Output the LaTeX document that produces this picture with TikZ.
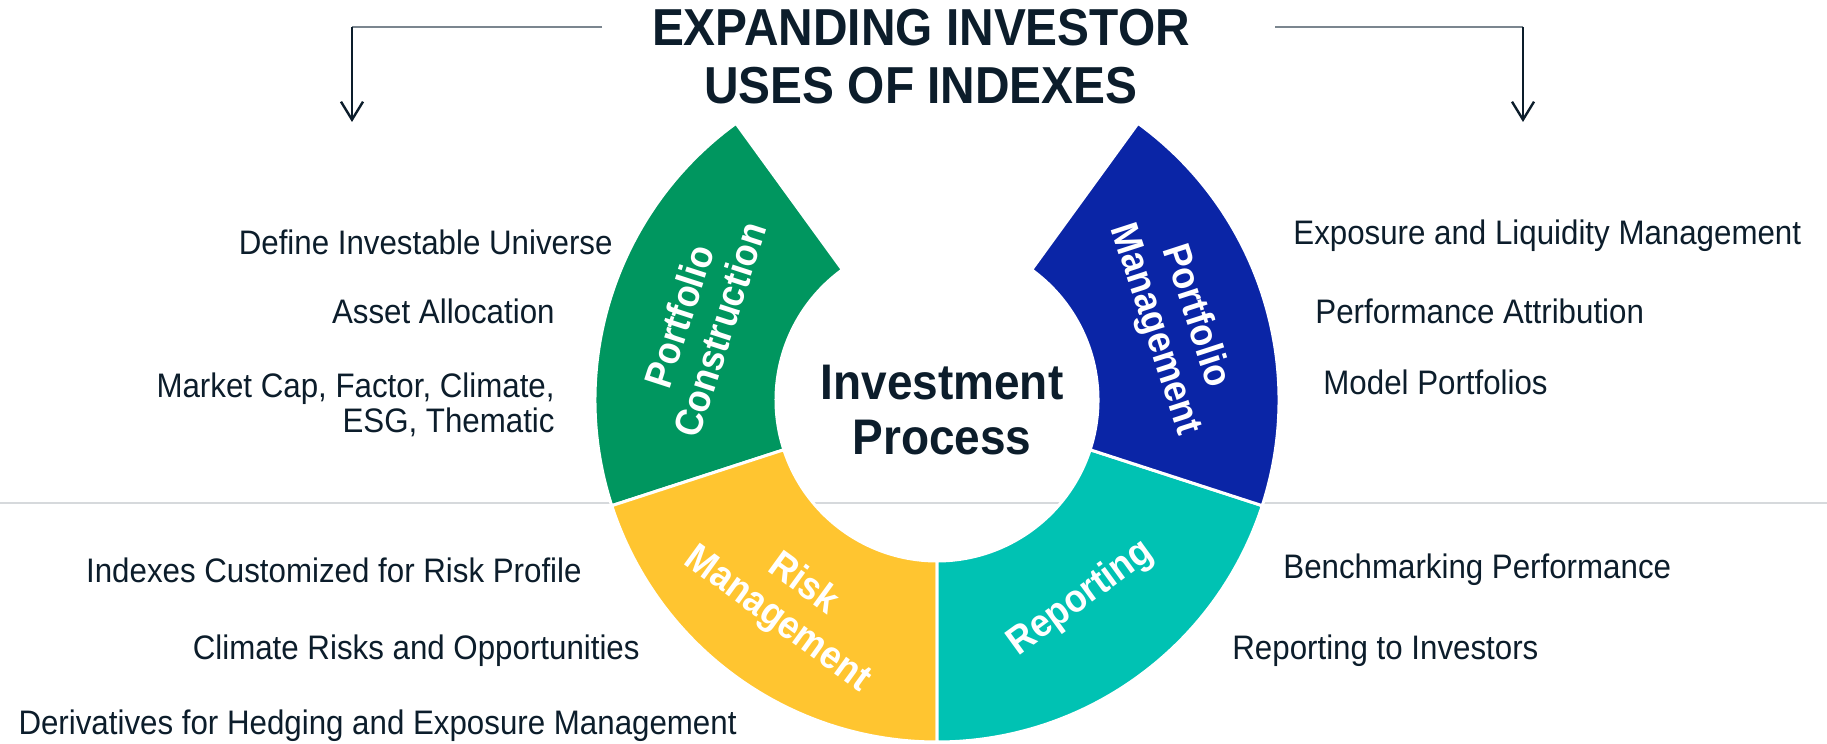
\documentclass[tikz,border=0pt]{standalone}
\usepackage{fontspec}
\setmainfont{Liberation Sans}[FakeStretch=0.92]
\usepackage{xcolor}
\definecolor{uses-navy}{HTML}{0C1D2B}
\definecolor{uses-gray}{HTML}{7B868F}
\definecolor{uses-rule}{HTML}{D6D9DC}
\definecolor{uses-green}{HTML}{00965F}
\definecolor{uses-blue}{HTML}{0A25A6}
\definecolor{uses-yellow}{HTML}{FFC530}
\definecolor{uses-teal}{HTML}{00C2B3}
\usetikzlibrary{arrows.meta}

\tikzset{
    usetext/.style={text=uses-navy, font=\fontsize{17}{17.5}\selectfont, inner sep=0pt},
    ringlabel/.style={text=white, font=\fontsize{19.5}{21.5}\selectfont\bfseries, align=center, inner sep=0pt},
    leadline/.style={uses-gray, line width=1pt},
    leadarrow/.style={uses-navy, line width=1.2pt, -{Straight Barb[length=9pt, width=11pt, line width=1.2pt]}},
}

\begin{document}
\begin{tikzpicture}[x=0.5pt, y=0.5pt]
    \useasboundingbox (0,0) rectangle (1827,744);

    % Divider
    \draw[uses-rule, line width=1pt] (0,241) -- (1827,241);

    % Title
    \node[text=uses-navy, font=\fontsize{26}{29}\selectfont\bfseries, align=center, inner sep=0pt] (title) at (921,687) {EXPANDING INVESTOR\\USES OF INDEXES};

    % Leads
    \coordinate (left-start) at (602,717);
    \coordinate (left-turn) at (352,717);
    \coordinate (left-end) at (352,622);
    \coordinate (right-start) at (1275,717);
    \coordinate (right-turn) at (1523,717);
    \coordinate (right-end) at (1523,622);
    \draw[leadline] (left-start) -- (left-turn);
    \draw[leadarrow] (left-turn) -- (left-end);
    \draw[leadline] (right-start) -- (right-turn);
    \draw[leadarrow] (right-turn) -- (right-end);

    % Ring
    \begin{scope}[shift={(937,344)}]
        \foreach \from/\to/\col in {126/198/uses-green, 198/270/uses-yellow, 270/342/uses-teal, 342/414/uses-blue}
            \filldraw[fill=\col, draw=white, line width=1.5pt] (\from:342) arc[start angle=\from, end angle=\to, radius=342]
                -- (\to:161) arc[start angle=\to, end angle=\from, radius=161] -- cycle;

        \node[ringlabel, rotate=72] (construction) at (162:250) {Portfolio\\Construction};
        \node[ringlabel, rotate=-72] (management) at (18:250) {Portfolio\\Management};
        \node[ringlabel, rotate=-36] (risk) at (234:250) {Risk\\Management};
        \node[ringlabel, rotate=36] (reporting) at (306:245) {Reporting};

        \node[text=uses-navy, font=\fontsize{25}{27.5}\selectfont\bfseries, align=center, inner sep=0pt] (process) at (5,-10) {Investment\\Process};
    \end{scope}

    % Left uses
    \node[usetext, anchor=base east] (universe) at (613,489) {Define Investable Universe};
    \node[usetext, anchor=base east] (allocation) at (555,420) {Asset Allocation};
    \node[usetext, anchor=north east, align=right] (mcap) at (555,372) {Market Cap, Factor, Climate,\\ESG, Thematic};
    \node[usetext, anchor=base east] (profile) at (582,161) {Indexes Customized for Risk Profile};
    \node[usetext, anchor=base east] (climate) at (640,84) {Climate Risks and Opportunities};
    \node[usetext, anchor=base east] (hedging) at (737,9) {Derivatives for Hedging and Exposure Management};

    % Right uses
    \node[usetext, anchor=base west] (liquidity) at (1293,499) {Exposure and Liquidity Management};
    \node[usetext, anchor=base west] (attribution) at (1315,420) {Performance Attribution};
    \node[usetext, anchor=base west] (models) at (1323,349) {Model Portfolios};
    \node[usetext, anchor=base west] (benchmark) at (1283,165) {Benchmarking Performance};
    \node[usetext, anchor=base west] (investors) at (1232,84) {Reporting to Investors};

\end{tikzpicture}
\end{document}
